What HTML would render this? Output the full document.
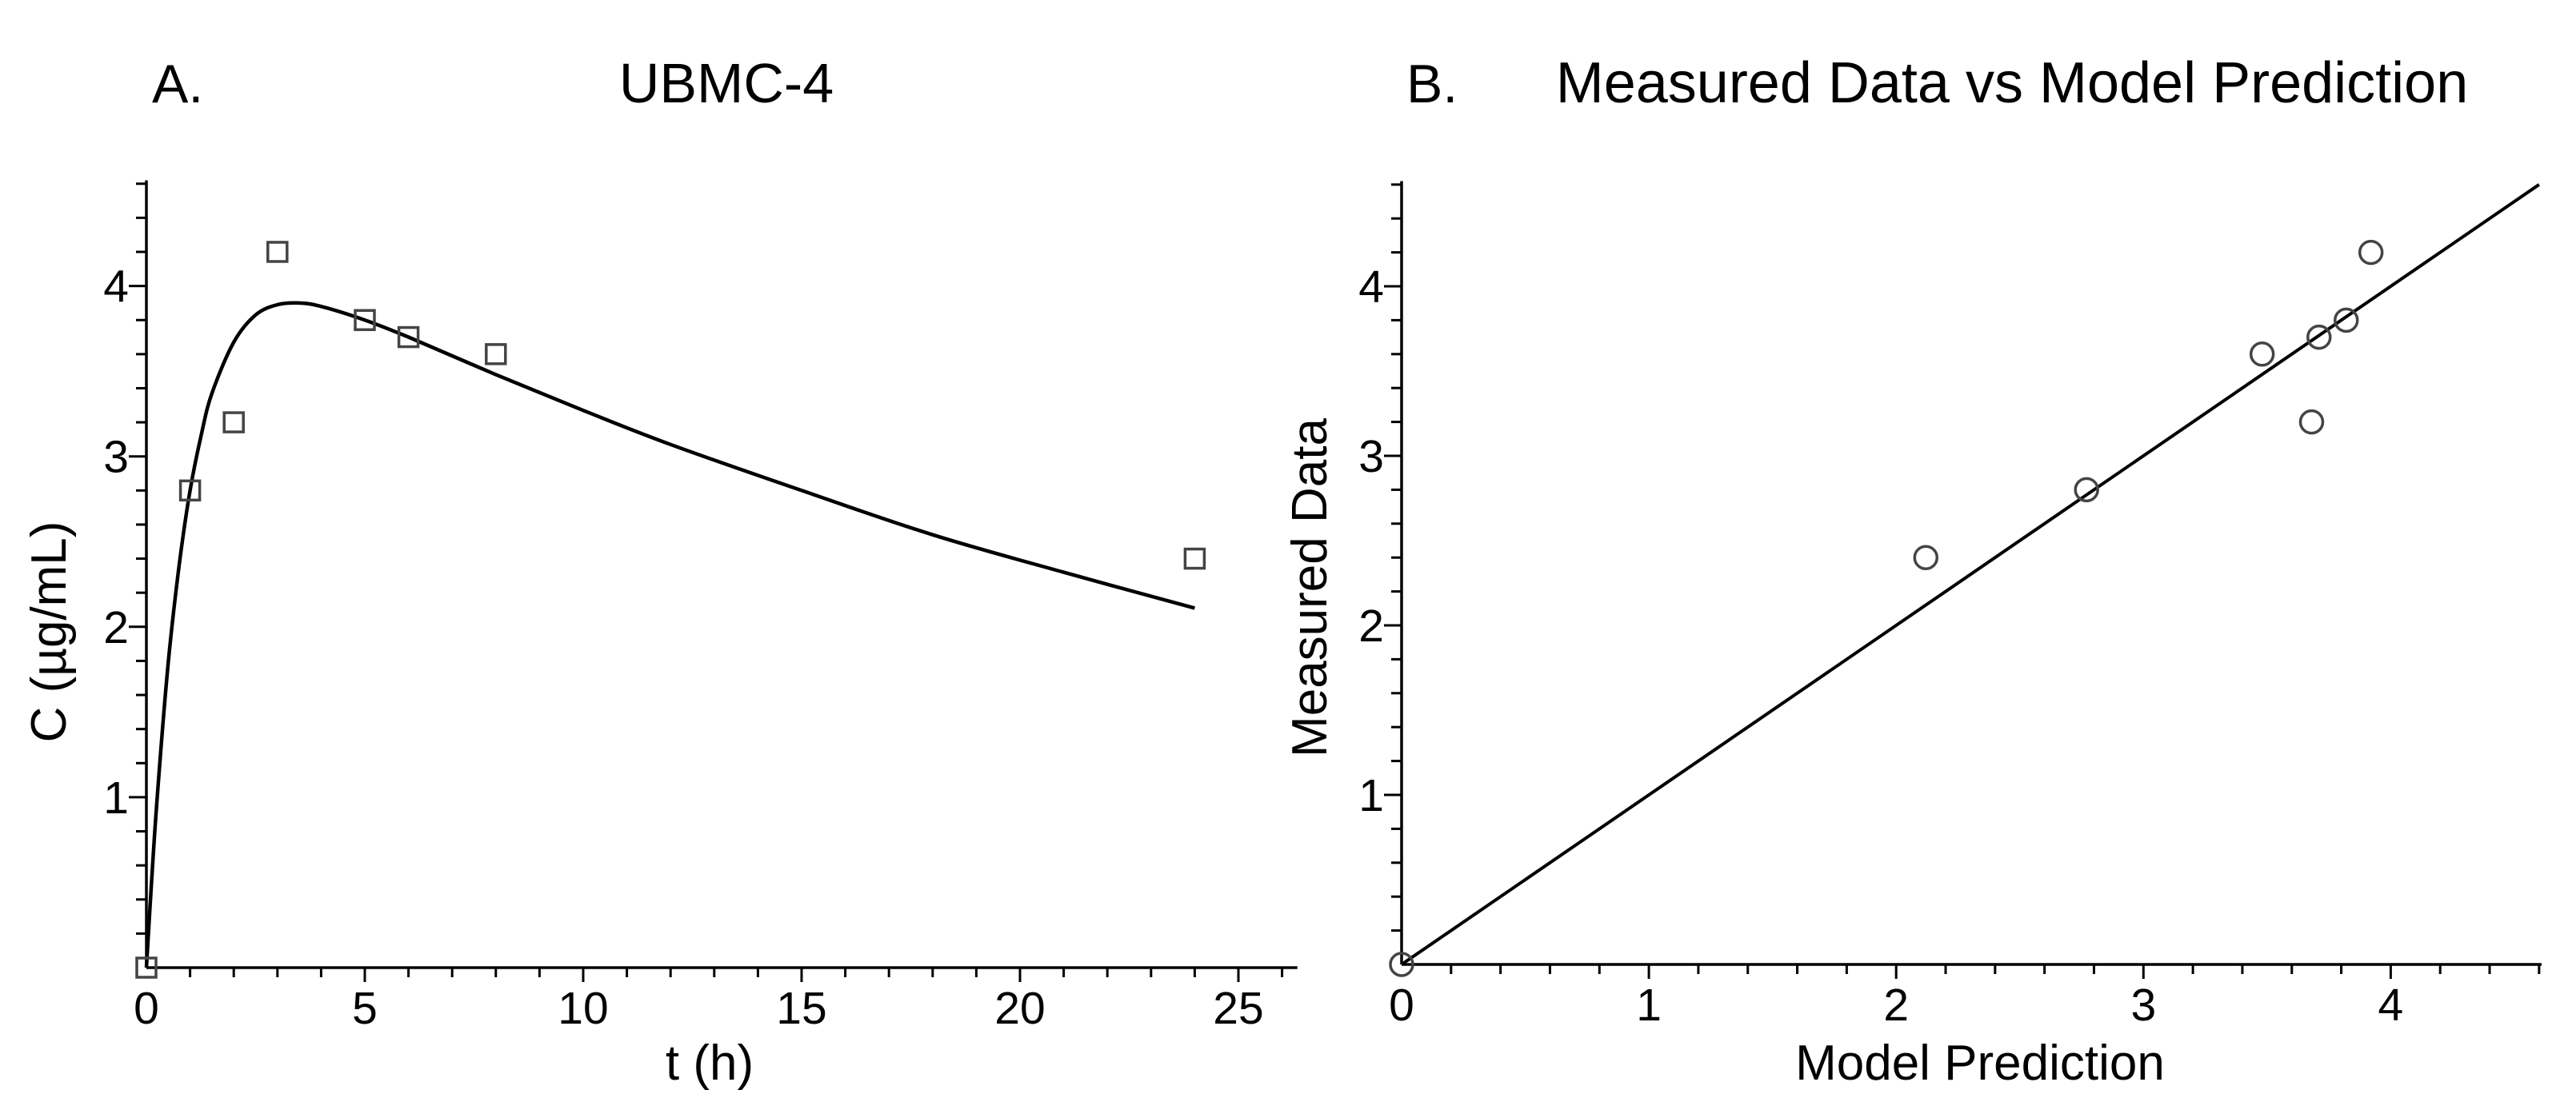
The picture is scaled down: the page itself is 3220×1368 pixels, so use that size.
<!DOCTYPE html>
<html><head><meta charset="utf-8"><style>
html,body{margin:0;padding:0;background:#fff;}
svg{display:block;font-family:"Liberation Sans",Arial,sans-serif;}
</style></head><body>
<svg id="chart" width="3220" height="1368" viewBox="0 0 3220 1368"></svg>
<script>
// Panel A data
const timePoints = [0, 1, 2, 3, 5, 6, 8, 24];
const measuredConc = [0, 2.8, 3.2, 4.2, 3.8, 3.7, 3.6, 2.4];
const curveTimes = [0, 0.1, 0.25, 0.5, 0.75, 1, 1.25, 1.5, 2, 2.5, 3, 3.5, 4, 5, 6, 8, 10, 12, 15, 18, 21, 24];
const curveConc = [0, 0.43, 1.01, 1.79, 2.36, 2.80, 3.12, 3.37, 3.67, 3.83, 3.89, 3.90, 3.88, 3.80, 3.70, 3.48, 3.27, 3.07, 2.80, 2.54, 2.32, 2.11];
const xTicksA = [0, 5, 10, 15, 20, 25];
const yTicks = [1, 2, 3, 4];
// Panel B data
const modelPred = [0, 2.12, 2.77, 3.48, 3.68, 3.71, 3.82, 3.92];
const measuredB = [0, 2.4, 2.8, 3.6, 3.2, 3.7, 3.8, 4.2];
const xTicksB = [0, 1, 2, 3, 4];
const identityLine = [0, 4.6];

const NS = "http://www.w3.org/2000/svg";
const svg = document.getElementById('chart');
function mk(tag, attrs, parent) {
  const e = document.createElementNS(NS, tag);
  for (const k in attrs) e.setAttribute(k, attrs[k]);
  (parent || svg).appendChild(e);
  return e;
}
function txt(str, attrs, parent) { const e = mk('text', attrs, parent); e.textContent = str; return e; }

function panel(cfg) {
  const g = mk('g', {});
  
  
  const X = v => cfg.x0 + v * cfg.ux;
  const Y = v => cfg.y0 - v * cfg.uy;
  const xa = mk('line', {x1: cfg.x0, y1: cfg.y0, x2: X(cfg.xmax), y2: cfg.y0, stroke: '#000', 'stroke-width': 3.5}, g);
  
  
  const ya = mk('line', {x1: cfg.x0, y1: cfg.y0, x2: cfg.x0, y2: Y(cfg.ymax), stroke: '#000', 'stroke-width': 3.5}, g);
  
  
  for (let v = cfg.xminor; v <= cfg.xmax + 1e-9; v += cfg.xminor) {
    const major = Math.abs(v / cfg.xmajor - Math.round(v / cfg.xmajor)) < 1e-6;
    mk('line', {x1: X(v), y1: cfg.y0, x2: X(v), y2: cfg.y0 + (major ? 18 : 12), stroke: '#000', 'stroke-width': 3}, g);
  }
  cfg.xticks.forEach(v => {
    const t = txt(String(v), {x: X(v), y: cfg.y0 + 70, 'font-size': 57, 'text-anchor': 'middle', fill: '#000'}, g);
    
    
  });
  for (let v = 0.2; v <= cfg.ymax + 1e-9; v += 0.2) {
    const major = Math.abs(v - Math.round(v)) < 1e-6;
    mk('line', {x1: cfg.x0 - (major ? 22 : 13), y1: Y(v), x2: cfg.x0, y2: Y(v), stroke: '#000', 'stroke-width': 3}, g);
  }
  yTicks.forEach(v => {
    const t = txt(String(v), {x: cfg.x0 - 22, y: Y(v) + 20, 'font-size': 57, 'text-anchor': 'end', fill: '#000'}, g);
    
    
  });
  return {g, X, Y};
}

// Panel A
const A = panel({name: 'panel-a', x0: 183, y0: 1210, ux: 54.6, uy: 213.1, xmax: 26.35, ymax: 4.62, xminor: 1, xmajor: 5, xticks: xTicksA});
// smooth path through curve points (Catmull-Rom -> cubic Bezier)
const pts = curveTimes.map((t, i) => [A.X(t), A.Y(curveConc[i])]);
let d = 'M' + pts[0][0].toFixed(1) + ',' + pts[0][1].toFixed(1);
for (let i = 0; i < pts.length - 1; i++) {
  const p0 = pts[Math.max(0, i - 1)], p1 = pts[i], p2 = pts[i + 1], p3 = pts[Math.min(pts.length - 1, i + 2)];
  const c1 = [p1[0] + (p2[0] - p0[0]) / 6, p1[1] + (p2[1] - p0[1]) / 6];
  const c2 = [p2[0] - (p3[0] - p1[0]) / 6, p2[1] - (p3[1] - p1[1]) / 6];
  d += ' C' + c1[0].toFixed(1) + ',' + c1[1].toFixed(1) + ' ' + c2[0].toFixed(1) + ',' + c2[1].toFixed(1) + ' ' + p2[0].toFixed(1) + ',' + p2[1].toFixed(1);
}
const curve = mk('path', {d: d, fill: 'none', stroke: '#000', 'stroke-width': 4.5, 'stroke-linejoin': 'round'}, A.g);


timePoints.forEach((t, i) => {
  const s = mk('rect', {x: A.X(t) - 12, y: A.Y(measuredConc[i]) - 12, width: 24, height: 24, fill: 'none', stroke: '#444', 'stroke-width': 3.5}, A.g);
  
  
});

// Panel B
const B = panel({name: 'panel-b', x0: 1752, y0: 1206, ux: 309.1, uy: 212.0, xmax: 4.61, ymax: 4.62, xminor: 0.2, xmajor: 1, xticks: xTicksB});
const idl = mk('line', {x1: B.X(identityLine[0]), y1: B.Y(identityLine[0]), x2: B.X(identityLine[1]), y2: B.Y(identityLine[1]), stroke: '#000', 'stroke-width': 4}, B.g);


modelPred.forEach((p, i) => {
  const c = mk('circle', {cx: B.X(p), cy: B.Y(measuredB[i]), r: 14, fill: 'none', stroke: '#444', 'stroke-width': 3.5}, B.g);
  
  
});
</script>
<div style="position:absolute;left:0;top:0;width:3220px;height:1368px;pointer-events:none;">
<svg width="3220" height="1368" style="font-family:'Liberation Sans',Arial,sans-serif">
  <text x="190" y="128" font-size="68">A.</text>
  <text x="908" y="128" font-size="70" text-anchor="middle">UBMC-4</text>
  <text x="1758" y="128" font-size="68">B.</text>
  <text x="2515" y="128" font-size="72" text-anchor="middle">Measured Data vs Model Prediction</text>
  <text x="887" y="1350" font-size="62" text-anchor="middle">t (h)</text>
  <text x="0" y="0" font-size="62" text-anchor="middle" transform="translate(82,790) rotate(-90)">C (µg/mL)</text>
  <text x="2475" y="1350" font-size="62" text-anchor="middle">Model Prediction</text>
  <text x="0" y="0" font-size="62" text-anchor="middle" transform="translate(1658,735) rotate(-90)">Measured Data</text>
</svg>
</div>
</body></html>
